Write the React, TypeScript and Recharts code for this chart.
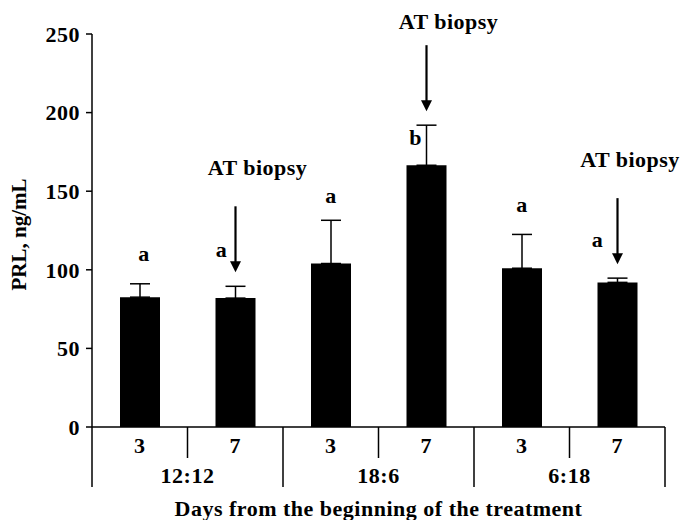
import { BarChart, Bar, XAxis, YAxis, ErrorBar, LabelList } from "recharts";

const days = ["3", "7", "3", "7", "3", "7"];
const photoperiods = ["12:12", "12:12", "18:6", "18:6", "6:18", "6:18"];
const prlMean = [82.6, 82, 104, 166.5, 101, 92];
const prlSem = [8.5, 7.5, 27.5, 25.5, 21.5, 2.7];
const letters = ["a", "a", "a", "b", "a", "a"];
const biopsy = [false, true, false, true, false, true];
const yTicks = [0, 50, 100, 150, 200, 250];

// where each significance letter sits, relative to the top of its error bar
const letterShift = [
  [4, -30],
  [-14, -36],
  [0, -24],
  [-11, 13],
  [0, -29],
  [-20, -38],
];

const W = 684;
const H = 520;
const M = { top: 34, right: 19, bottom: 0, left: 0 };
const Y_W = 92;
const X_H = 93;
const PLOT_W = W - M.left - M.right - Y_W;

const font = "'Liberation Serif', 'Times New Roman', serif";
const txt = { fontFamily: font, fontWeight: 700, fontSize: 22, letterSpacing: 0.5, fill: "#000" };

const data = days.map((d, i) => ({
  day: d,
  group: photoperiods[i],
  prl: prlMean[i],
  err: [0, prlSem[i]],
}));

function DayTick(props: any) {
  const { x, y, index, payload } = props;
  const band = PLOT_W / days.length;
  const right = x + band / 2;
  const groupEnd = index % 2 === 1;
  return (
    <g>
      <text x={x} y={y + 26} textAnchor="middle" style={txt}>
        {payload.value}
      </text>
      {index === 0 && (
        <line x1={x - band / 2} y1={y} x2={x - band / 2} y2={y + 60} stroke="#000" strokeWidth={1.5} />
      )}
      <line x1={right} y1={y} x2={right} y2={y + (groupEnd ? 60 : 31)} stroke="#000" strokeWidth={1.5} />
      {groupEnd && (
        <text x={x - band / 2} y={y + 56} textAnchor="middle" style={txt}>
          {photoperiods[index]}
        </text>
      )}
    </g>
  );
}

function Annotation(props: any) {
  const vb = props.viewBox ?? props;
  const { x, y, width, height } = vb;
  const i = props.index;
  const cx = x + width / 2;
  const perUnit = height / prlMean[i];
  const errTop = y - prlSem[i] * perUnit;
  const [dx, dy] = letterShift[i];
  const out = [
    <text key="l" x={cx + dx} y={errTop + dy + 7} textAnchor="middle" style={txt}>
      {letters[i]}
    </text>,
  ];
  if (biopsy[i]) {
    const tip = errTop - 14;
    const top = tip - 66;
    const textY = Math.max(top - 38, 22);
    const textX = Math.min(cx + 22, W - 54);
    out.push(
      <line key="s" x1={cx} y1={top} x2={cx} y2={tip - 9} stroke="#000" strokeWidth={2.2} />,
      <path key="h" d={`M${cx - 5.5},${tip - 11} L${cx + 5.5},${tip - 11} L${cx},${tip} Z`} fill="#000" />,
      <text key="t" x={textX} y={textY + 7} textAnchor="middle" style={txt}>
        AT biopsy
      </text>
    );
  }
  return <g>{out}</g>;
}

export default function App() {
  return (
    <div style={{ position: "absolute", left: 0, top: 0, background: "#fff" }}>
      <BarChart width={W} height={H} data={data} margin={M}>
        <YAxis
          width={Y_W}
          domain={[0, 250]}
          ticks={yTicks}
          interval={0}
          axisLine={{ stroke: "#000", strokeWidth: 1.5 }}
          tickLine={{ stroke: "#000", strokeWidth: 1.5 }}
          tickSize={6}
          tickMargin={6}
          tick={txt}
          label={{
            content: (p: any) => {
              const vb = p.viewBox;
              const cy = vb.y + vb.height / 2 + 4;
              return (
                <text
                  x={26}
                  y={cy}
                  transform={`rotate(-90 26 ${cy})`}
                  textAnchor="middle"
                  style={{ ...txt, fontSize: 21, letterSpacing: 0 }}
                >
                  PRL, ng/mL
                </text>
              );
            },
          }}
        />
        <XAxis
          dataKey="day"
          height={X_H}
          interval={0}
          axisLine={{ stroke: "#000", strokeWidth: 1.5 }}
          tickLine={false}
          tickSize={0}
          tickMargin={0}
          tick={<DayTick />}
          label={{
            content: (p: any) => {
              const vb = p.viewBox;
              return (
                <text x={vb.x + vb.width / 2} y={vb.y + 89} textAnchor="middle" style={txt}>
                  Days from the beginning of the treatment
                </text>
              );
            },
          }}
        />
        <Bar dataKey="prl" fill="#000" barSize={40} isAnimationActive={false}>
          <ErrorBar dataKey="err" direction="y" width={10} stroke="#000" strokeWidth={1.5} />
          <LabelList dataKey="prl" content={<Annotation />} />
        </Bar>
      </BarChart>
    </div>
  );
}
